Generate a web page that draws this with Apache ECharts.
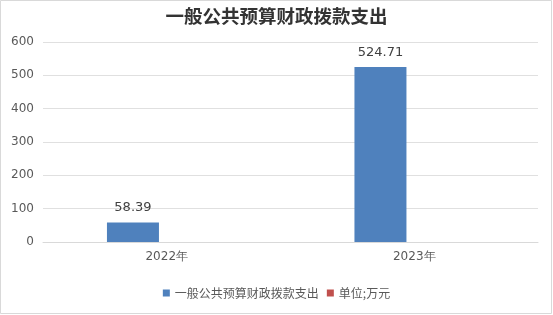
<!DOCTYPE html>
<html><head><meta charset="utf-8">
<script src="https://cdn.jsdelivr.net/npm/echarts@6/dist/echarts.min.js"></script>
<style>html,body{margin:0;padding:0;background:#fff}#c{width:553px;height:315px}</style>
</head><body><div id="c"></div>
<script>
const categories = ['2022年', '2023年'];
const seriesNames = ['一般公共预算财政拨款支出', '单位;万元'];
const spending = [58.39, 524.71];
const unitSeries = [null, null];
const yTicks = [0, 100, 200, 300, 400, 500, 600];

const chart = echarts.init(document.getElementById('c'));
chart.setOption({
  animation: false,
  backgroundColor: '#fff',
  title: {
    text: '一般公共预算财政拨款支出',
    left: 'center', top: 2,
    textStyle: { fontFamily: 'Noto Sans CJK SC', fontSize: 18.5, fontWeight: 'bold', color: '#333' }
  },
  graphic: [{ type: 'rect', shape: { x: 0.5, y: 0.5, width: 551, height: 313 }, style: { fill: 'none', stroke: '#d9d9d9', lineWidth: 1 }, silent: true }],
  grid: { left: 43, right: 15, top: 42, bottom: 73 },
  legend: {
    bottom: 11, left: 'center', itemWidth: 7, itemHeight: 7, itemGap: 8,
    icon: 'rect',
    textStyle: { fontFamily: 'Noto Sans CJK SC', fontSize: 12, color: '#595959' },
    data: seriesNames
  },
  xAxis: {
    type: 'category', data: categories,
    axisLine: { lineStyle: { color: '#d9d9d9' } },
    axisTick: { show: false },
    axisLabel: { fontFamily: 'DejaVu Sans', fontSize: 12, color: '#595959', margin: 9 }
  },
  yAxis: {
    type: 'value', min: yTicks[0], max: yTicks[yTicks.length - 1], interval: 100,
    axisLine: { show: false }, axisTick: { show: false },
    splitLine: { lineStyle: { color: '#e0e0e0' } },
    axisLabel: { fontFamily: 'DejaVu Sans', fontSize: 12, color: '#595959', margin: 9 }
  },
  series: [
    { name: seriesNames[0], type: 'bar', data: spending, barWidth: 52, barGap: '30%',
      itemStyle: { color: '#4f81bd' },
      label: { show: true, position: 'top', distance: 8, fontFamily: 'DejaVu Sans', fontSize: 13, color: '#404040' } },
    { name: seriesNames[1], type: 'bar', data: unitSeries, barWidth: 52,
      itemStyle: { color: '#c0504d' } }
  ]
});
</script></body></html>
